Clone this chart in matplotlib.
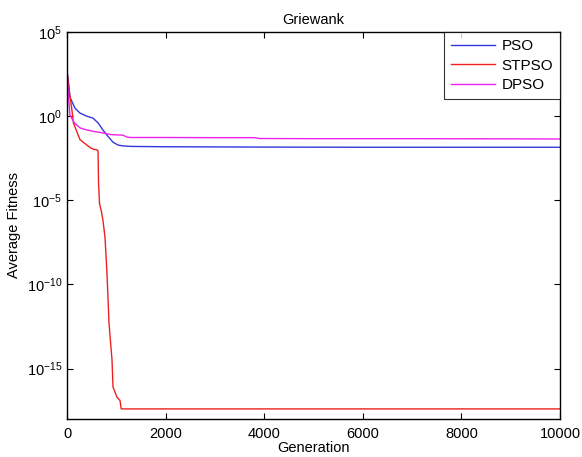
import matplotlib
matplotlib.use("Agg")
import matplotlib.pyplot as plt
from matplotlib.ticker import FixedLocator, FuncFormatter, NullLocator
import numpy as np

plt.rcParams['font.family'] = ['Liberation Sans', 'DejaVu Sans']
plt.rcParams['mathtext.fontset'] = 'custom'
plt.rcParams['mathtext.rm'] = 'Liberation Sans'
plt.rcParams['mathtext.it'] = 'Liberation Sans:italic'
plt.rcParams['mathtext.bf'] = 'Liberation Sans:bold'

title = "Griewank"
series_names = ["PSO", "STPSO", "DPSO"]

# generation, log10(average fitness)
pso_gen = [0, 30, 60, 160, 264, 400, 527, 630, 730, 830, 933, 1036, 1136, 1300, 2000, 4000, 6000, 8000, 10000]
pso_log = [2.7, 2.0, 1.13, 0.48, 0.18, 0.0, -0.12, -0.4, -0.83, -1.2, -1.55, -1.72, -1.77, -1.80, -1.82, -1.84, -1.85, -1.85, -1.85]

stpso_gen = [0, 40, 100, 130, 264, 460, 527, 600, 629, 640, 660, 700, 730, 771, 811, 852, 913, 933, 960, 1014, 1075, 1100, 2000, 4000, 6000, 8000, 10000]
stpso_log = [2.7, 1.6, 0.36, -0.4, -1.4, -1.85, -1.96, -2.0, -2.05, -4.0, -5.2, -5.7, -6.2, -7.2, -9.35, -12.3, -14.5, -16.1, -16.3, -16.7, -16.9, -17.4, -17.4, -17.4, -17.4, -17.4, -17.4]

dpso_gen = [0, 30, 60, 150, 264, 400, 527, 700, 900, 1136, 1220, 1300, 2000, 3000, 3800, 3900, 5000, 7000, 9000, 10000]
dpso_log = [2.7, 1.2, 0.06, -0.4, -0.7, -0.82, -0.9, -0.98, -1.1, -1.13, -1.25, -1.27, -1.27, -1.28, -1.28, -1.33, -1.34, -1.34, -1.35, -1.36]

y_ticks_exp = [-15, -10, -5, 0, 5]
x_ticks = [0, 2000, 4000, 6000, 8000, 10000]

fig = plt.figure(figsize=(5.82, 4.57), dpi=100)
ax = fig.add_axes([67/582, 1 - 419/457, (560-67)/582, (419-32)/457])

colors = ['#3535e0', '#ee2020', '#ee20ee']
for name, g, l, c in zip(series_names, [pso_gen, stpso_gen, dpso_gen], [pso_log, stpso_log, dpso_log], colors):
    ax.semilogy(g, 10.0 ** np.array(l), color=c, lw=1.0, label=name)

ax.set_xlim(0, 10000)
ax.set_ylim(1e-18, 1e5)
ax.xaxis.set_major_locator(FixedLocator(x_ticks))
ax.yaxis.set_major_locator(FixedLocator([10.0 ** e for e in y_ticks_exp]))
ax.yaxis.set_minor_locator(NullLocator())
ax.yaxis.set_major_formatter(FuncFormatter(lambda v, p: r'$10^{%d}$' % round(np.log10(v))))
ax.tick_params(direction='in', length=4, labelsize=10.5, top=True, right=True, width=0.8)
ax.tick_params(axis='x', pad=6)
for s in ax.spines.values():
    s.set_linewidth(1.0)

ax.set_title(title, fontsize=10.5, pad=6)
ax.set_xlabel("Generation", fontsize=10.5, labelpad=0)
ax.set_ylabel("Average Fitness", fontsize=10.5, labelpad=4)

leg = ax.legend(loc='upper right', fontsize=11, frameon=True, fancybox=False,
                borderaxespad=0, handlelength=2.9, handletextpad=0.4,
                labelspacing=0.38, borderpad=0.45)
leg.get_frame().set_edgecolor('black')
leg.get_frame().set_linewidth(0.8)

fig.savefig("out.png", dpi=100)
